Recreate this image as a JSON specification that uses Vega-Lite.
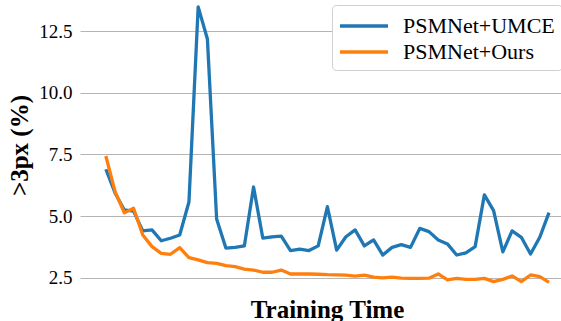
{
  "$schema": "https://vega.github.io/schema/vega-lite/v6.json",
  "autosize": "none",
  "width": 481,
  "height": 290,
  "padding": {"left": 80, "top": 0, "right": 0, "bottom": 31},
  "background": "white",
  "config": {
    "view": {"stroke": null},
    "font": "Liberation Serif",
    "axis": {"labelFont": "Liberation Serif", "titleFont": "Liberation Serif"},
    "legend": {"labelFont": "Liberation Serif"}
  },
  "data": {"values": [
    {"t":0,"s":"PSMNet+UMCE","v":6.9},{"t":1,"s":"PSMNet+UMCE","v":5.94},{"t":2,"s":"PSMNet+UMCE","v":5.25},{"t":3,"s":"PSMNet+UMCE","v":5.2},{"t":4,"s":"PSMNet+UMCE","v":4.4},{"t":5,"s":"PSMNet+UMCE","v":4.44},{"t":6,"s":"PSMNet+UMCE","v":4.0},{"t":7,"s":"PSMNet+UMCE","v":4.1},{"t":8,"s":"PSMNet+UMCE","v":4.23},{"t":9,"s":"PSMNet+UMCE","v":5.57},
    {"t":10,"s":"PSMNet+UMCE","v":13.49},{"t":11,"s":"PSMNet+UMCE","v":12.19},{"t":12,"s":"PSMNet+UMCE","v":4.88},{"t":13,"s":"PSMNet+UMCE","v":3.7},{"t":14,"s":"PSMNet+UMCE","v":3.73},{"t":15,"s":"PSMNet+UMCE","v":3.79},{"t":16,"s":"PSMNet+UMCE","v":6.18},{"t":17,"s":"PSMNet+UMCE","v":4.11},{"t":18,"s":"PSMNet+UMCE","v":4.16},{"t":19,"s":"PSMNet+UMCE","v":4.19},
    {"t":20,"s":"PSMNet+UMCE","v":3.6},{"t":21,"s":"PSMNet+UMCE","v":3.66},{"t":22,"s":"PSMNet+UMCE","v":3.6},{"t":23,"s":"PSMNet+UMCE","v":3.79},{"t":24,"s":"PSMNet+UMCE","v":5.38},{"t":25,"s":"PSMNet+UMCE","v":3.62},{"t":26,"s":"PSMNet+UMCE","v":4.16},{"t":27,"s":"PSMNet+UMCE","v":4.44},{"t":28,"s":"PSMNet+UMCE","v":3.79},{"t":29,"s":"PSMNet+UMCE","v":4.03},
    {"t":30,"s":"PSMNet+UMCE","v":3.42},{"t":31,"s":"PSMNet+UMCE","v":3.73},{"t":32,"s":"PSMNet+UMCE","v":3.84},{"t":33,"s":"PSMNet+UMCE","v":3.73},{"t":34,"s":"PSMNet+UMCE","v":4.5},{"t":35,"s":"PSMNet+UMCE","v":4.37},{"t":36,"s":"PSMNet+UMCE","v":4.03},{"t":37,"s":"PSMNet+UMCE","v":3.87},{"t":38,"s":"PSMNet+UMCE","v":3.42},{"t":39,"s":"PSMNet+UMCE","v":3.51},
    {"t":40,"s":"PSMNet+UMCE","v":3.76},{"t":41,"s":"PSMNet+UMCE","v":5.86},{"t":42,"s":"PSMNet+UMCE","v":5.22},{"t":43,"s":"PSMNet+UMCE","v":3.55},{"t":44,"s":"PSMNet+UMCE","v":4.4},{"t":45,"s":"PSMNet+UMCE","v":4.14},{"t":46,"s":"PSMNet+UMCE","v":3.46},{"t":47,"s":"PSMNet+UMCE","v":4.14},{"t":48,"s":"PSMNet+UMCE","v":5.14},
    {"t":0,"s":"PSMNet+Ours","v":7.44},{"t":1,"s":"PSMNet+Ours","v":5.99},{"t":2,"s":"PSMNet+Ours","v":5.13},{"t":3,"s":"PSMNet+Ours","v":5.32},{"t":4,"s":"PSMNet+Ours","v":4.23},{"t":5,"s":"PSMNet+Ours","v":3.76},{"t":6,"s":"PSMNet+Ours","v":3.49},{"t":7,"s":"PSMNet+Ours","v":3.45},{"t":8,"s":"PSMNet+Ours","v":3.72},{"t":9,"s":"PSMNet+Ours","v":3.31},
    {"t":10,"s":"PSMNet+Ours","v":3.22},{"t":11,"s":"PSMNet+Ours","v":3.11},{"t":12,"s":"PSMNet+Ours","v":3.08},{"t":13,"s":"PSMNet+Ours","v":2.99},{"t":14,"s":"PSMNet+Ours","v":2.95},{"t":15,"s":"PSMNet+Ours","v":2.85},{"t":16,"s":"PSMNet+Ours","v":2.81},{"t":17,"s":"PSMNet+Ours","v":2.72},{"t":18,"s":"PSMNet+Ours","v":2.72},{"t":19,"s":"PSMNet+Ours","v":2.81},
    {"t":20,"s":"PSMNet+Ours","v":2.65},{"t":21,"s":"PSMNet+Ours","v":2.65},{"t":22,"s":"PSMNet+Ours","v":2.65},{"t":23,"s":"PSMNet+Ours","v":2.64},{"t":24,"s":"PSMNet+Ours","v":2.62},{"t":25,"s":"PSMNet+Ours","v":2.61},{"t":26,"s":"PSMNet+Ours","v":2.6},{"t":27,"s":"PSMNet+Ours","v":2.56},{"t":28,"s":"PSMNet+Ours","v":2.6},{"t":29,"s":"PSMNet+Ours","v":2.52},
    {"t":30,"s":"PSMNet+Ours","v":2.49},{"t":31,"s":"PSMNet+Ours","v":2.52},{"t":32,"s":"PSMNet+Ours","v":2.48},{"t":33,"s":"PSMNet+Ours","v":2.47},{"t":34,"s":"PSMNet+Ours","v":2.47},{"t":35,"s":"PSMNet+Ours","v":2.48},{"t":36,"s":"PSMNet+Ours","v":2.65},{"t":37,"s":"PSMNet+Ours","v":2.41},{"t":38,"s":"PSMNet+Ours","v":2.47},{"t":39,"s":"PSMNet+Ours","v":2.43},
    {"t":40,"s":"PSMNet+Ours","v":2.43},{"t":41,"s":"PSMNet+Ours","v":2.47},{"t":42,"s":"PSMNet+Ours","v":2.34},{"t":43,"s":"PSMNet+Ours","v":2.43},{"t":44,"s":"PSMNet+Ours","v":2.57},{"t":45,"s":"PSMNet+Ours","v":2.34},{"t":46,"s":"PSMNet+Ours","v":2.61},{"t":47,"s":"PSMNet+Ours","v":2.54},{"t":48,"s":"PSMNet+Ours","v":2.31}
  ]},
  "mark": {"type": "line", "strokeWidth": 3.3, "strokeJoin": "round", "strokeCap": "butt"},
  "encoding": {
    "x": {
      "field": "t", "type": "quantitative",
      "scale": {"domain": [-2.8, 49.3], "nice": false, "zero": false},
      "axis": {
        "title": "Training Time", "titleFont": "Liberation Serif", "titleFontSize": 25, "titleFontWeight": "bold",
        "titleColor": "black", "titleX": 247, "titleY": 27, "titleBaseline": "alphabetic", "titleAnchor": "middle",
        "labels": false, "ticks": false, "domain": false, "grid": false
      }
    },
    "y": {
      "field": "v", "type": "quantitative",
      "scale": {"domain": [2.0, 13.77], "nice": false, "zero": false},
      "axis": {
        "title": ">3px (%)", "titleFont": "Liberation Serif", "titleFontSize": 25, "titleFontWeight": "bold",
        "titleColor": "black", "titlePadding": 6,
        "values": [2.5, 5, 7.5, 10, 12.5], "format": ".1f",
        "labelFont": "Liberation Serif", "labelFontSize": 19, "labelColor": "black", "labelPadding": 8,
        "ticks": false, "domain": false,
        "grid": true, "gridColor": "#b5b5b5", "gridWidth": 1.2
      }
    },
    "color": {
      "field": "s", "type": "nominal",
      "scale": {"domain": ["PSMNet+UMCE", "PSMNet+Ours"], "range": ["#1f77b4", "#ff7f0e"]},
      "legend": {
        "title": null, "orient": "none", "legendX": 252, "legendY": 5,
        "symbolType": "M-2,0H2", "symbolSize": 576, "symbolStrokeWidth": 3.3, "symbolOffset": 11,
        "labelFont": "Liberation Serif", "labelFontSize": 22, "labelColor": "black", "labelOffset": 25,
        "rowPadding": 1, "padding": 7, "fillColor": "white", "strokeColor": "#d0d0d0", "cornerRadius": 4
      }
    }
  }
}
